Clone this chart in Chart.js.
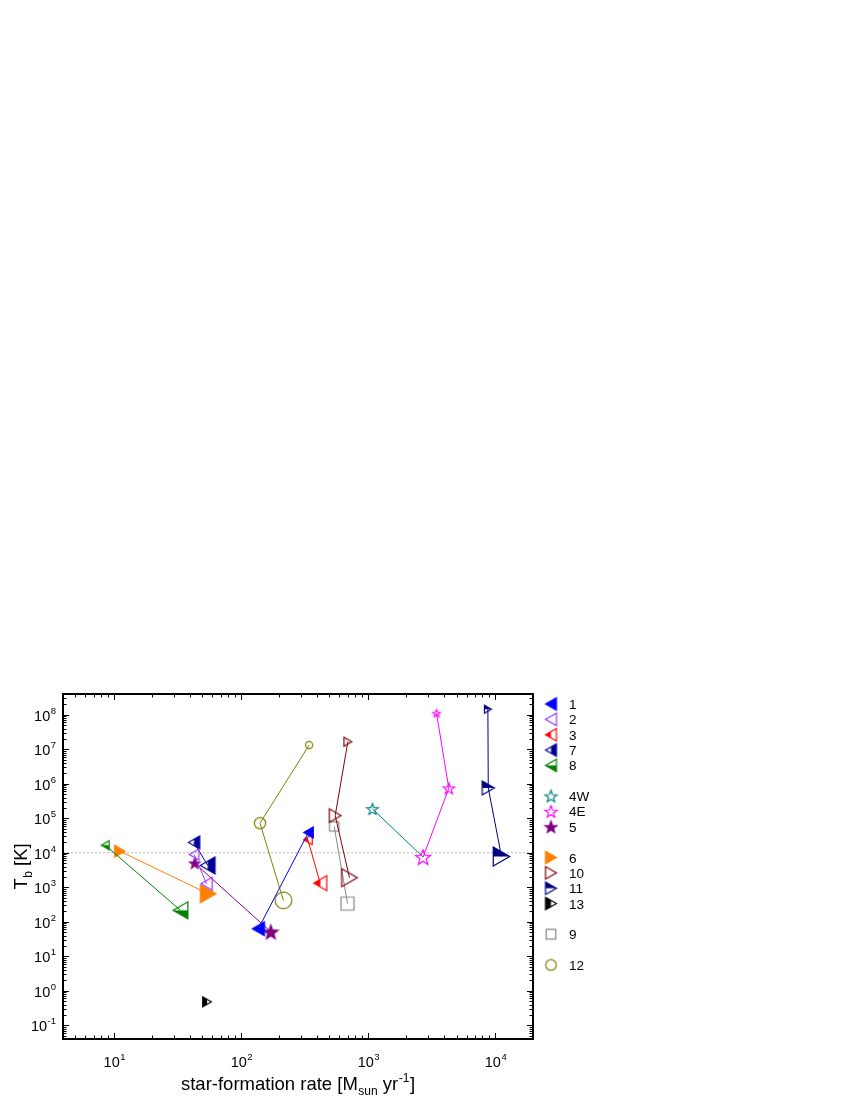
<!DOCTYPE html>
<html>
<head>
<meta charset="utf-8">
<script src="https://cdn.jsdelivr.net/npm/chart.js@4/dist/chart.umd.min.js"></script>
<style>
  html, body { margin: 0; padding: 0; background: #fff; }
</style>
</head>
<body>
<canvas id="tbChart" width="850" height="1100"></canvas>
<script>
document.addEventListener("DOMContentLoaded", () => {

// legend order of the sources
const labels = ["1", "2", "3", "7", "8", "4W", "4E", "5", "6", "10", "11", "13", "9", "12"];

// star-formation rate [Msun/yr] and brightness temperature [K]
const sfr1 = [342, 138];          const tb1 = [3.9e4, 63];
const sfr2 = [43, 54];            const tb2 = [8.9e3, 1.27e3];
const sfr3 = [338, 423];          const tb3 = [2.4e4, 1.32e3];
const sfr7 = [43, 55];            const tb7 = [2.0e4, 4.3e3];
const sfr8 = [8.6, 33.6];         const tb8 = [1.66e4, 215];
const sfr4W = [1090, 2730];       const tb4W = [1.87e5, 7.5e3];
const sfr4E = [3480, 4350, 2730]; const tb4E = [1.11e8, 7.4e5, 7.5e3];
const sfr5 = [43.5, 173];         const tb5 = [5.0e3, 51];
const sfr6 = [11.2, 55.5];        const tb6 = [1.11e4, 650];
const sfr10 = [698, 555, 719];    const tb10 = [1.65e7, 1.2e5, 1.9e3];
const sfr11 = [8830, 8890, 11300];const tb11 = [1.45e8, 7.6e5, 7.8e3];
const sfr13 = [54.4];             const tb13 = [0.48];
const sfr9 = [545, 694];          const tb9 = [5.8e4, 336];
const sfr12 = [346, 142, 217];    const tb12 = [1.32e7, 7.2e4, 418];

const xMin = 4, xMax = 2e4;
const yMin = 0.04, yMax = 4e8;
const tbRef = 1e4;

const sfrData = { "1": sfr1, "2": sfr2, "3": sfr3, "7": sfr7, "8": sfr8, "4W": sfr4W, "4E": sfr4E,
  "5": sfr5, "6": sfr6, "10": sfr10, "11": sfr11, "13": sfr13, "9": sfr9, "12": sfr12 };
const tbData = { "1": tb1, "2": tb2, "3": tb3, "7": tb7, "8": tb8, "4W": tb4W, "4E": tb4E,
  "5": tb5, "6": tb6, "10": tb10, "11": tb11, "13": tb13, "9": tb9, "12": tb12 };

// marker look per source (sizes = marker radius per point)
const styles = {
  "1":  { color: "#0000ff", shape: "triLeft",  fill: "full",   sizes: [5.5, 7] },
  "2":  { color: "#9933ff", shape: "triLeft",  fill: "none",   sizes: [5.5, 6.5] },
  "3":  { color: "#ff0000", shape: "triLeft",  fill: "left",   sizes: [5, 7.5] },
  "7":  { color: "#000099", shape: "triLeft",  fill: "right",  sizes: [6.5, 8.5] },
  "8":  { color: "#008000", shape: "triLeft",  fill: "bottom", sizes: [4.5, 8.5] },
  "4W": { color: "#008080", shape: "star",     fill: "none",   sizes: [6, 0] },
  "4E": { color: "#ff00ff", shape: "star",     fill: "none",   sizes: [4, 6, 8] },
  "5":  { color: "#800080", shape: "star",     fill: "full",   sizes: [5.5, 7.5] },
  "6":  { color: "#ff8000", shape: "triRight", fill: "full",   sizes: [6, 9] },
  "10": { color: "#800000", shape: "triRight", fill: "none",   sizes: [4.5, 6.8, 9] },
  "11": { color: "#000080", shape: "triRight", fill: "top",    sizes: [4, 7, 9.5] },
  "13": { color: "#000000", shape: "triRight", fill: "left",   sizes: [5] },
  "9":  { color: "#888888", shape: "square",   fill: "none",   sizes: [4.7, 6.5] },
  "12": { color: "#808000", shape: "circle",   fill: "none",   sizes: [3.6, 5.6, 8.4] }
};
const legendGapAfter = ["8", "5", "13", "9"];

const FONT = '"Liberation Sans", Arial, sans-serif';

function tracePath(g, shape, r) {
  const h = r * 0.866;
  g.beginPath();
  if (shape === "triLeft") {
    g.moveTo(-h, 0); g.lineTo(h, -r); g.lineTo(h, r); g.closePath();
  } else if (shape === "triRight") {
    g.moveTo(h, 0); g.lineTo(-h, -r); g.lineTo(-h, r); g.closePath();
  } else if (shape === "circle") {
    g.arc(0, 0, r, 0, Math.PI * 2);
  } else if (shape === "square") {
    g.rect(-r, -r, 2 * r, 2 * r);
  } else if (shape === "star") {
    for (let i = 0; i < 10; i++) {
      const a = -Math.PI / 2 + i * Math.PI / 5;
      const rr = i % 2 === 0 ? r : r * 0.42;
      const px = Math.cos(a) * rr, py = Math.sin(a) * rr + r * 0.1;
      if (i === 0) g.moveTo(px, py); else g.lineTo(px, py);
    }
    g.closePath();
  }
}

function markerCanvas(st, r) {
  const size = Math.ceil(2 * r + 4);
  const c = document.createElement("canvas");
  c.width = size; c.height = size;
  const g = c.getContext("2d");
  g.translate(size / 2, size / 2);
  tracePath(g, st.shape, r);
  if (st.fill === "full") {
    g.fillStyle = st.color; g.fill();
  } else if (st.fill !== "none") {
    g.save();
    g.clip();
    g.fillStyle = st.color;
    const e = size;
    if (st.fill === "left") g.fillRect(-e, -e, e, 2 * e);
    if (st.fill === "right") g.fillRect(0, -e, e, 2 * e);
    if (st.fill === "top") g.fillRect(-e, -e, 2 * e, e);
    if (st.fill === "bottom") g.fillRect(-e, 0, 2 * e, e);
    g.restore();
    tracePath(g, st.shape, r);
  }
  g.lineWidth = 1.2;
  g.strokeStyle = st.color;
  g.stroke();
  return c;
}

const datasets = labels.map(lab => {
  const st = styles[lab];
  const xs = sfrData[lab], ys = tbData[lab];
  return {
    label: lab,
    data: xs.map((x, i) => ({ x: x, y: ys[i] })),
    showLine: true,
    borderColor: st.color,
    borderWidth: 1,
    pointRadius: st.sizes,
    pointStyle: st.sizes.map(r => r > 0 ? markerCanvas(st, r) : "circle"),
    pointBackgroundColor: st.color,
    pointBorderColor: st.color
  };
});

// dotted reference line at Tb = 1e4 K
datasets.push({
  label: "ref",
  data: [{ x: xMin, y: tbRef }, { x: xMax, y: tbRef }],
  showLine: true,
  borderColor: "#b5b5b5",
  borderWidth: 1,
  borderDash: [2, 2],
  pointRadius: 0
});

function logTicks(min, max) {
  const out = [];
  for (let k = Math.floor(Math.log10(min)); k <= Math.ceil(Math.log10(max)); k++) {
    for (let m = 1; m <= 9; m++) {
      const v = m * Math.pow(10, k);
      if (v >= min * 0.9999 && v <= max * 1.0001) out.push({ v: v, major: m === 1, exp: k });
    }
  }
  return out;
}

function drawPieces(g, pieces, x, y, align) {
  let total = 0;
  pieces.forEach(p => { g.font = p.size + "px " + FONT; p.w = g.measureText(p.t).width; total += p.w + (p.gap || 0); });
  let cx = align === "center" ? x - total / 2 : (align === "right" ? x - total : x);
  g.textAlign = "left";
  g.textBaseline = "alphabetic";
  pieces.forEach(p => {
    g.font = p.size + "px " + FONT;
    cx += p.gap || 0;
    g.fillText(p.t, cx, y + (p.dy || 0));
    cx += p.w;
  });
}

function powPieces(exp) {
  return [{ t: "10", size: 14.5 }, { t: String(exp), size: 9.5, dy: -7, gap: 0.5 }];
}

const framePlugin = {
  id: "frame",
  afterDraw(chart) {
    const g = chart.ctx;
    const a = chart.chartArea;
    const xs = chart.scales.x, ys = chart.scales.y;
    g.save();
    g.fillStyle = "#000";
    g.strokeStyle = "#000";

    // ticks on all four sides, pointing inwards
    g.lineWidth = 1;
    g.beginPath();
    logTicks(xMin, xMax).forEach(t => {
      const px = Math.round(xs.getPixelForValue(t.v)) + 0.5;
      const len = t.major ? 6 : 3.5;
      g.moveTo(px, a.bottom); g.lineTo(px, a.bottom - len);
      g.moveTo(px, a.top); g.lineTo(px, a.top + len);
    });
    logTicks(yMin, yMax).forEach(t => {
      const py = Math.round(ys.getPixelForValue(t.v)) + 0.5;
      const len = t.major ? 6 : 3.5;
      g.moveTo(a.left, py); g.lineTo(a.left + len, py);
      g.moveTo(a.right, py); g.lineTo(a.right - len, py);
    });
    g.stroke();

    // frame
    g.lineWidth = 2;
    g.strokeRect(a.left, a.top, a.right - a.left, a.bottom - a.top);

    // tick labels
    logTicks(xMin, xMax).filter(t => t.major).forEach(t => {
      drawPieces(g, powPieces(t.exp), xs.getPixelForValue(t.v) + 1, a.bottom + 28, "center");
    });
    logTicks(yMin, yMax).filter(t => t.major).forEach(t => {
      drawPieces(g, powPieces(t.exp), a.left - 7, ys.getPixelForValue(t.v) + 6, "right");
    });

    // axis titles
    drawPieces(g, [
      { t: "star-formation rate [M", size: 18.5 },
      { t: "sun", size: 12, dy: 5, gap: 0.5 },
      { t: " yr", size: 18.5 },
      { t: "-1", size: 12, dy: -8, gap: 0.5 },
      { t: "]", size: 18.5, gap: 0.5 }
    ], (a.left + a.right) / 2, a.bottom + 51, "center");

    g.save();
    g.translate(27, (a.top + a.bottom) / 2);
    g.rotate(-Math.PI / 2);
    drawPieces(g, [
      { t: "T", size: 18.5 },
      { t: "b", size: 12, dy: 5, gap: 0.5 },
      { t: " [K]", size: 18.5 }
    ], 0, 0, "center");
    g.restore();

    // legend
    let row = 0;
    labels.forEach(lab => {
      const st = styles[lab];
      const y = 704 + row * 15.35;
      const r = st.shape === "circle" ? 5.3 : (st.shape === "square" ? 4.8 : 6.3);
      const m = markerCanvas(st, r);
      g.drawImage(m, 551 - m.width / 2, y - m.height / 2);
      g.fillStyle = "#000";
      g.font = "13.5px " + FONT;
      g.textAlign = "left";
      g.textBaseline = "alphabetic";
      g.fillText(lab, 569, y + 5);
      row += legendGapAfter.includes(lab) ? 2 : 1;
    });
    g.restore();
  }
};

new Chart(document.getElementById("tbChart").getContext("2d"), {
  type: "scatter",
  data: { datasets: datasets },
  options: {
    responsive: false,
    animation: false,
    layout: { padding: { left: 63, right: 317, top: 694, bottom: 61 } },
    plugins: {
      legend: { display: false },
      tooltip: { enabled: false }
    },
    elements: { line: { tension: 0 } },
    scales: {
      x: { type: "logarithmic", min: xMin, max: xMax, display: false },
      y: { type: "logarithmic", min: yMin, max: yMax, display: false }
    }
  },
  plugins: [framePlugin]
});

});
</script>
</body>
</html>
